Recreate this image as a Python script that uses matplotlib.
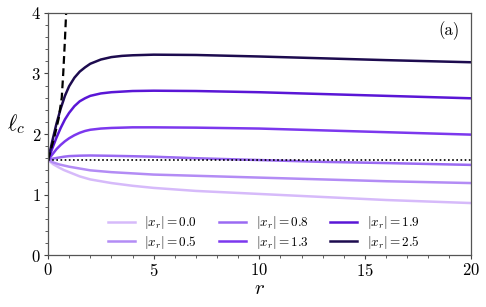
import numpy as np
import matplotlib
matplotlib.use("Agg")
import matplotlib.pyplot as plt
from matplotlib.ticker import MultipleLocator

plt.rcParams['font.family'] = 'serif'
plt.rcParams['font.serif'] = ['cmr10']
plt.rcParams['mathtext.fontset'] = 'cm'
plt.rcParams['axes.formatter.use_mathtext'] = True

# data
xr_labels = ["0.0", "0.5", "0.8", "1.3", "1.9", "2.5"]
colors = ["#d6bafa", "#b38cf5", "#9a6af2", "#7c38ee", "#5a16d6", "#1d0b4f"]

r_a = [0, 0.25, 0.5, 0.75, 1, 1.5, 2, 3, 4, 5, 7, 10, 13, 16, 20]
l_00 = [1.571, 1.50, 1.45, 1.405, 1.37, 1.30, 1.25, 1.19, 1.145, 1.11, 1.06, 1.01, 0.96, 0.91, 0.86]
l_05 = [1.571, 1.53, 1.50, 1.48, 1.46, 1.43, 1.40, 1.37, 1.35, 1.33, 1.31, 1.28, 1.25, 1.22, 1.19]
l_08 = [1.571, 1.595, 1.61, 1.625, 1.635, 1.642, 1.645, 1.64, 1.633, 1.625, 1.60, 1.57, 1.54, 1.52, 1.49]

r_b = [0, 0.2, 0.4, 0.6, 0.8, 1.0, 1.25, 1.5, 1.75, 2, 2.5, 3, 3.5, 4, 5, 7, 10, 13, 16, 20]
l_13 = [1.571, 1.66, 1.75, 1.82, 1.88, 1.93, 1.98, 2.02, 2.05, 2.07, 2.09, 2.10, 2.105, 2.11, 2.11,
        2.105, 2.09, 2.06, 2.03, 1.99]
l_19 = [1.571, 1.76, 1.94, 2.10, 2.24, 2.35, 2.46, 2.54, 2.59, 2.63, 2.67, 2.69, 2.70, 2.71, 2.715,
        2.71, 2.69, 2.66, 2.63, 2.59]
l_25 = [1.571, 1.88, 2.17, 2.42, 2.63, 2.79, 2.93, 3.03, 3.10, 3.16, 3.23, 3.27, 3.29, 3.30, 3.31,
        3.305, 3.28, 3.25, 3.22, 3.185]

r_dash = [0, 0.3, 0.5, 0.65, 0.72, 0.8, 0.87]
l_dash = [1.571, 1.95, 2.25, 2.6, 3.0, 3.55, 4.1]

ref_level = np.pi / 2

series = [(r_a, l_00), (r_a, l_05), (r_a, l_08), (r_b, l_13), (r_b, l_19), (r_b, l_25)]

fig = plt.figure(figsize=(4.86, 3.07), dpi=100)
ax = fig.add_axes([0.0988, 0.169, 0.8695, 0.789])

for (rr, ll), c, lab in zip(series, colors, xr_labels):
    ax.plot(rr, ll, color=c, lw=1.8, label=r"$|x_r| = %s$" % lab, solid_joinstyle='round')

ax.plot(r_dash, l_dash, color='black', lw=1.6, ls=(0, (3.5, 2)))
ax.axhline(ref_level, color='black', lw=1.2, ls=(0, (1, 1.5)))

ax.set_xlim(0, 20)
ax.set_ylim(0, 4)
ax.xaxis.set_major_locator(MultipleLocator(5))
ax.xaxis.set_minor_locator(MultipleLocator(1))
ax.yaxis.set_major_locator(MultipleLocator(1))
ax.yaxis.set_minor_locator(MultipleLocator(0.2))
ax.tick_params(which='major', length=3, width=0.8, labelsize=12, color='#444444', pad=2)
ax.tick_params(which='minor', length=2, width=0.6, color='#444444')
for s in ax.spines.values():
    s.set_color('#555555')
    s.set_linewidth(0.9)

ax.set_xlabel(r"$r$", fontsize=15, labelpad=1)
ax.set_ylabel(r"$\ell_c$", fontsize=16, rotation=0, labelpad=12)
ax.yaxis.set_label_coords(-0.075, 0.49)
ax.text(0.975, 0.925, "(a)", transform=ax.transAxes, ha='right', va='center', fontsize=12)

ax.legend(ncol=3, loc='lower center', bbox_to_anchor=(0.51, -0.015), frameon=False,
          fontsize=9.5, handlelength=2.1, columnspacing=1.6, handletextpad=0.7,
          labelspacing=0.2, borderaxespad=0.2)

fig.savefig("out.png", dpi=100)
